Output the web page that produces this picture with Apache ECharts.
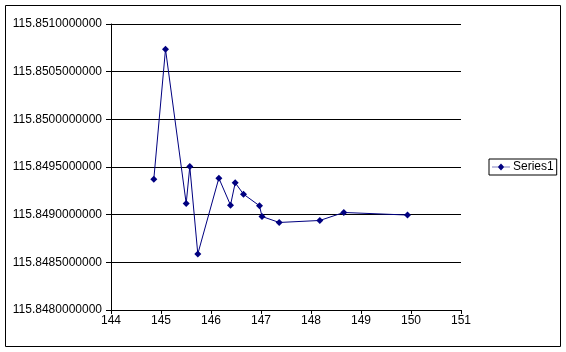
<!DOCTYPE html>
<html><head><meta charset="utf-8">
<script src="https://cdn.jsdelivr.net/npm/echarts@6/dist/echarts.min.js"></script>
<style>html,body{margin:0;padding:0;background:#fff}#c{width:566px;height:352px}</style>
</head><body><div id="c"></div>
<script>
const xValues = [144.856, 145.09, 145.504, 145.576, 145.736, 146.157, 146.39, 146.484, 146.65, 146.97, 147.02, 147.364, 148.176, 148.656, 149.93];
const yValues = [115.849372, 115.850735, 115.849117, 115.849504, 115.848588, 115.849383, 115.8491, 115.849334, 115.849215, 115.849093, 115.848981, 115.848918, 115.848939, 115.849023, 115.848996];
const seriesName = 'Series1';

const chart = echarts.init(document.getElementById('c'));
const data = xValues.map((x, i) => [x, yValues[i]]);
const font = 'Liberation Sans, Arial, sans-serif';
chart.setOption({
  backgroundColor: '#fff',
  animation: false,
  grid: { left: 111, top: 24, width: 350, height: 286, containLabel: false },
  graphic: [{ type: 'rect', shape: { x: 5.5, y: 5.5, width: 555, height: 341 }, style: { fill: 'none', stroke: '#000', lineWidth: 1 }, silent: true }],
  legend: {
    show: true, left: 489, top: 159, orient: 'vertical',
    borderColor: '#000', borderWidth: 1, padding: [2, 3, 2, 3],
    itemWidth: 18, itemHeight: 7, itemGap: 0,
    textStyle: { fontFamily: font, fontSize: 12, color: '#000', padding: [0, 0, 0, -2] },
    data: [{ name: seriesName, icon: 'path://M0,3.2 L6,3.2 L9,0 L12,3.2 L18,3.2 L18,3.8 L12,3.8 L9,7 L6,3.8 L0,3.8 Z' }]
  },
  xAxis: {
    type: 'value', min: 144, max: 151, interval: 1,
    axisLine: { show: true, lineStyle: { color: '#000', width: 1 } },
    axisTick: { show: true, length: 4, inside: false, lineStyle: { color: '#000' } },
    axisLabel: { fontFamily: font, fontSize: 12, color: '#000', margin: 5 },
    splitLine: { show: false }
  },
  yAxis: {
    type: 'value', min: 115.848, max: 115.851, interval: 0.0005,
    axisLine: { show: true, lineStyle: { color: '#000', width: 1 } },
    axisTick: { show: true, length: 5, inside: false, lineStyle: { color: '#000' } },
    axisLabel: { fontFamily: font, fontSize: 12, color: '#000', margin: 9, formatter: v => Number(v).toFixed(10) },
    splitLine: { show: true, lineStyle: { color: '#000', width: 1 } }
  },
  series: [{
    name: seriesName, type: 'line', data: data,
    symbol: 'diamond', symbolSize: 7, showAllSymbol: true,
    lineStyle: { color: '#000080', width: 1 },
    itemStyle: { color: '#000080' }
  }]
});
</script></body></html>
